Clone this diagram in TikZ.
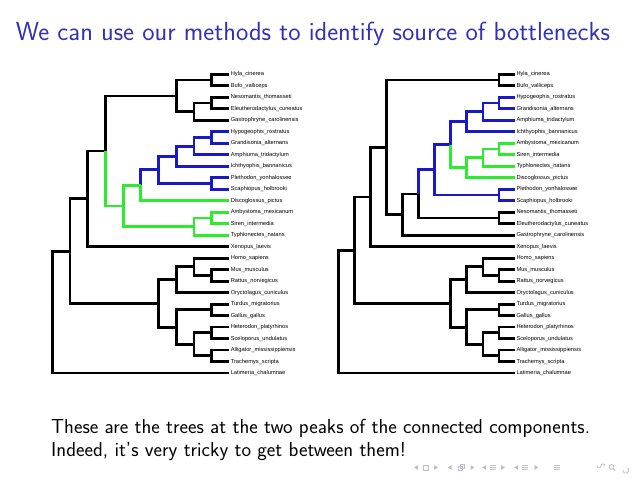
\documentclass[tikz,border=0pt]{standalone}
\usepackage{fontspec}
\usepackage{tikz}
\usetikzlibrary{arrows.meta,positioning,calc}
\newfontfamily\leaffont{Liberation Sans}
\definecolor{titleBlue} {RGB}{51, 51, 178}
\definecolor{cladeBlue} {RGB}{25, 25, 200}
\definecolor{cladeGreen}{RGB}{45, 235, 45}
\definecolor{navGray}   {RGB}{190, 190, 210}

\begin{document}
\begin{tikzpicture}[x=1pt,y=-1pt,
          edgeK/.style={line width=2.8pt,black},
          edgeB/.style={line width=2.8pt,cladeBlue},
          edgeG/.style={line width=2.8pt,cladeGreen},
          leaf/.style={anchor=west,inner sep=1.3pt,
                       font=\leaffont\fontsize{5.7}{6}\selectfont},
          navsym/.style={navGray,line width=0.8pt},
        ]
        \useasboundingbox (0,0) rectangle (638,479);

        % TITLE AND TEXT
        \node[anchor=base west,inner sep=0,titleBlue,
              font=\sffamily\fontsize{26.2}{31}\selectfont] (title) at (15.6,40.5)
          {We can use our methods to identify source of bottlenecks};
        \node[anchor=base west,inner sep=0,
              font=\sffamily\fontsize{20.3}{24}\selectfont] (text1) at (51,433.3)
          {These are the trees at the two peaks of the connected components.};
        \node[anchor=base west,inner sep=0,
              font=\sffamily\fontsize{20.3}{24}\selectfont] (text2) at (51,456.3)
          {Indeed, it's very tricky to get between them!};

        % LEFT TREE
        \foreach \nm/\txt [count=\i from 0] in {
            Hyla/Hyla\_cinerea, Bufo/Bufo\_valliceps,
            Neso/Nesomantis\_thomasseti, Eleu/Eleutherodactylus\_cuneatus,
            Gastro/Gastrophryne\_carolinensis, Hypo/Hypogeophis\_rostratus,
            Grand/Grandisonia\_alternans, Amph/Amphiuma\_tridactylum,
            Ichth/Ichthyophis\_bannanicus, Pleth/Plethodon\_yonhalossee,
            Scaph/Scaphiopus\_holbrooki, Disco/Discoglossus\_pictus,
            Amby/Ambystoma\_mexicanum, Siren/Siren\_intermedia,
            Typhl/Typhlonectes\_natans, Xeno/Xenopus\_laevis,
            Homo/Homo\_sapiens, Mus/Mus\_musculus, Rattus/Rattus\_norvegicus,
            Oryct/Oryctolagus\_cuniculus, Turdus/Turdus\_migratorius,
            Gallus/Gallus\_gallus, Hetero/Heterodon\_platyrhinos,
            Scelo/Sceloporus\_undulatus, Alli/Alligator\_mississippiensis,
            Trach/Trachemys\_scripta, Latim/Latimeria\_chalumnae}
          \node[leaf] (L\nm) at (229.3,{74.3+11.49*\i}) {\txt};

        \coordinate (a1) at (211.6,80.05);
        \coordinate (a2) at (211.6,103.05);
        \coordinate (a3) at (193.9,111.7);
        \coordinate (a4) at (176.2,95.9);
        \coordinate (b1) at (211.6,137.5);
        \coordinate (b2) at (193.9,146.1);
        \coordinate (b3) at (176.2,156.15);
        \coordinate (b4) at (211.6,183.45);
        \coordinate (b5) at (158.5,169.8);
        \coordinate (g1) at (140.8,185.25);
        \coordinate (g2) at (211.6,217.95);
        \coordinate (g3) at (193.9,226.6);
        \coordinate (g4) at (123.1,205.9);
        \coordinate (f1) at (105.4,150.9);
        \coordinate (f2) at (87.7,198.8);
        \coordinate (m1) at (211.6,275.35);
        \coordinate (m2) at (193.9,266.7);
        \coordinate (m3) at (176.2,279.65);
        \coordinate (s1) at (211.6,309.85);
        \coordinate (s2) at (211.6,332.85);
        \coordinate (s3) at (211.6,355.85);
        \coordinate (s4) at (193.9,344.35);
        \coordinate (s5) at (176.2,327.1);
        \coordinate (t1) at (158.5,303.4);
        \coordinate (r1) at (70,251.1);
        \coordinate (r0) at (52.3,312.05);
        \coordinate (r00) at (50.6,312.05);

        \draw[edgeK] (a1) |- (LHyla.west) (a1) |- (LBufo.west)
          (a2) |- (LNeso.west) (a2) |- (LEleu.west)
          (a3) |- (a2) (a3) |- (LGastro.west) (a4) |- (a1) (a4) |- (a3)
          (f1) |- (a4) (f2) |- (f1) (f2) |- (LXeno.west)
          (m1) |- (LMus.west) (m1) |- (LRattus.west)
          (m2) |- (LHomo.west) (m2) |- (m1) (m3) |- (m2) (m3) |- (LOryct.west)
          (s1) |- (LTurdus.west) (s1) |- (LGallus.west)
          (s2) |- (LHetero.west) (s2) |- (LScelo.west)
          (s3) |- (LAlli.west) (s3) |- (LTrach.west)
          (s4) |- (s2) (s4) |- (s3) (s5) |- (s1) (s5) |- (s4)
          (t1) |- (m3) (t1) |- (s5)
          (r1) |- (f2) (r1) |- (t1)
          (r0) |- (r1) (r0) |- (LLatim.west) (r00) -- (r0);
        \draw[edgeB] (b1) |- (LHypo.west) (b1) |- (LGrand.west)
          (b2) |- (b1) (b2) |- (LAmph.west) (b3) |- (b2) (b3) |- (LIchth.west)
          (b4) |- (LPleth.west) (b4) |- (LScaph.west)
          (b5) |- (b3) (b5) |- (b4) (g1) |- (b5);
        \draw[edgeG] (g1) |- (LDisco.west)
          (g2) |- (LAmby.west) (g2) |- (LSiren.west)
          (g3) |- (g2) (g3) |- (LTyphl.west)
          (g4) |- (g1) (g4) |- (g3) (f1) |- (g4);

        % RIGHT TREE
        \foreach \nm/\txt [count=\i from 0] in {
            Hyla/Hyla\_cinerea, Bufo/Bufo\_valliceps,
            Hypo/Hypogeophis\_rostratus, Grand/Grandisonia\_alternans,
            Amph/Amphiuma\_tridactylum, Ichth/Ichthyophis\_bannanicus,
            Amby/Ambystoma\_mexicanum, Siren/Siren\_intermedia,
            Typhl/Typhlonectes\_natans, Disco/Discoglossus\_pictus,
            Pleth/Plethodon\_yonhalossee, Scaph/Scaphiopus\_holbrooki,
            Neso/Nesomantis\_thomasseti, Eleu/Eleutherodactylus\_cuneatus,
            Gastro/Gastrophryne\_carolinensis, Xeno/Xenopus\_laevis,
            Homo/Homo\_sapiens, Mus/Mus\_musculus, Rattus/Rattus\_norvegicus,
            Oryct/Oryctolagus\_cuniculus, Turdus/Turdus\_migratorius,
            Gallus/Gallus\_gallus, Hetero/Heterodon\_platyrhinos,
            Scelo/Sceloporus\_undulatus, Alli/Alligator\_mississippiensis,
            Trach/Trachemys\_scripta, Latim/Latimeria\_chalumnae}
          \node[leaf] (R\nm) at (515,{74.3+11.49*\i}) {\txt};

        \coordinate (A1) at (498.9,80.05);
        \coordinate (B1) at (498.9,103.05);
        \coordinate (B2) at (482.9,111.7);
        \coordinate (B3) at (466.8,121.75);
        \coordinate (G1) at (498.9,148.95);
        \coordinate (G2) at (482.9,157.6);
        \coordinate (G3) at (466.8,167.65);
        \coordinate (B4) at (450.8,144.7);
        \coordinate (B5) at (498.9,194.95);
        \coordinate (B6) at (434.7,169.8);
        \coordinate (N1) at (498.9,217.95);
        \coordinate (N2) at (418.6,193.9);
        \coordinate (N3) at (402.6,214.55);
        \coordinate (N4) at (386.5,147.3);
        \coordinate (N5) at (370.5,197);
        \coordinate (M1) at (498.9,275.35);
        \coordinate (M2) at (482.9,266.7);
        \coordinate (M3) at (466.8,279.65);
        \coordinate (S1) at (498.9,309.85);
        \coordinate (S2) at (498.9,332.85);
        \coordinate (S3) at (498.9,355.85);
        \coordinate (S4) at (482.9,344.35);
        \coordinate (S5) at (466.8,327.1);
        \coordinate (T1) at (450.8,303.4);
        \coordinate (R1) at (354.4,250.2);
        \coordinate (R0) at (338.3,311.6);
        \coordinate (R00) at (336.6,311.6);

        \draw[edgeK] (A1) |- (RHyla.west) (A1) |- (RBufo.west)
          (N1) |- (RNeso.west) (N1) |- (REleu.west)
          (N2) |- (N1) (N3) |- (N2) (N3) |- (RGastro.west)
          (N4) |- (A1) (N4) |- (N3) (N5) |- (N4) (N5) |- (RXeno.west)
          (M1) |- (RMus.west) (M1) |- (RRattus.west)
          (M2) |- (RHomo.west) (M2) |- (M1) (M3) |- (M2) (M3) |- (ROryct.west)
          (S1) |- (RTurdus.west) (S1) |- (RGallus.west)
          (S2) |- (RHetero.west) (S2) |- (RScelo.west)
          (S3) |- (RAlli.west) (S3) |- (RTrach.west)
          (S4) |- (S2) (S4) |- (S3) (S5) |- (S1) (S5) |- (S4)
          (T1) |- (M3) (T1) |- (S5)
          (R1) |- (N5) (R1) |- (T1)
          (R0) |- (R1) (R0) |- (RLatim.west) (R00) -- (R0);
        \draw[edgeB] (B1) |- (RHypo.west) (B1) |- (RGrand.west)
          (B2) |- (B1) (B2) |- (RAmph.west) (B3) |- (B2) (B3) |- (RIchth.west)
          (B4) |- (B3) (B5) |- (RPleth.west) (B5) |- (RScaph.west)
          (B6) |- (B4) (B6) |- (B5) (N2) |- (B6);
        \draw[edgeG] (G1) |- (RAmby.west) (G1) |- (RSiren.west)
          (G2) |- (G1) (G2) |- (RTyphl.west)
          (G3) |- (G2) (G3) |- (RDisco.west) (B4) |- (G3);

        % NAVIGATION SYMBOLS
        \foreach \x in {416,449.7,484,516}
          \fill[navGray] (\x+2,465.1) -- (\x-2,467.5) -- (\x+2,469.9) -- cycle;
        \foreach \x in {436,472.5,503,536.4}
          \fill[navGray] (\x-2,465.1) -- (\x+2,467.5) -- (\x-2,469.9) -- cycle;
        \draw[navsym] (423,465) rectangle (428,470);
        \draw[navsym] (458,466) rectangle (462.5,470.5)
          (460,464) rectangle (464.5,468.5);
        \foreach \x in {493,525,557}
          \foreach \dy in {-2.2,0,2.2}
            \draw[navsym] (\x-3,467.5+\dy) -- (\x+3,467.5+\dy);
        \draw[navsym] (597,466) arc[start angle=180,end angle=0,radius=2]
          arc[start angle=180,end angle=360,radius=2];
        \draw[navsym] (611.5,467) circle[radius=2.4] (613.2,468.7) -- (615,470.5);
        \draw[navsym,-{Stealth[length=2pt]}] (623,469.5)
          arc[start angle=200,end angle=-60,radius=2.8];
      \end{tikzpicture}
\end{document}
